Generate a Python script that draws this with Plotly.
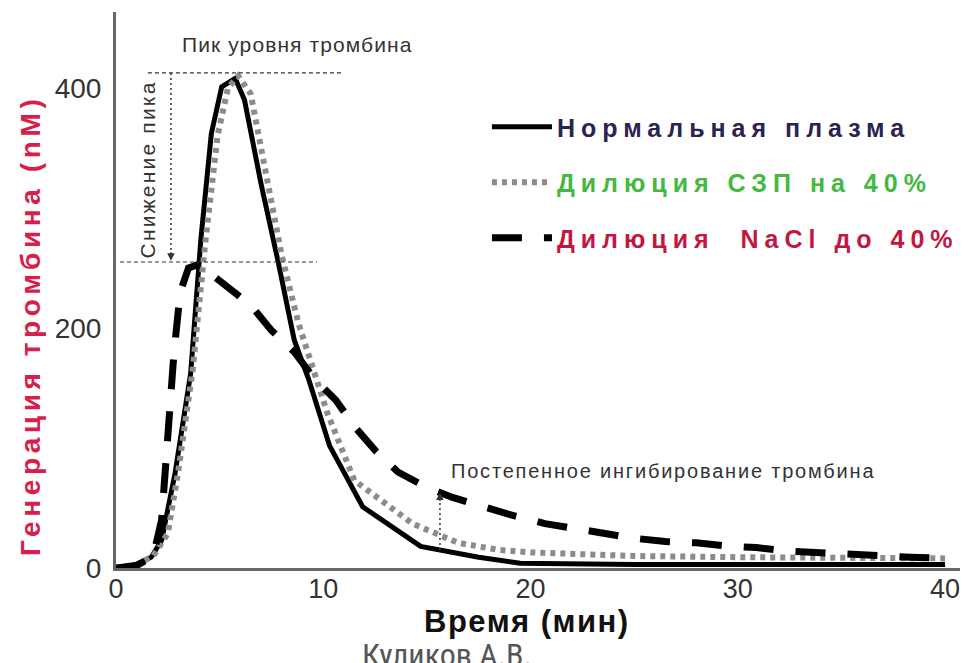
import numpy as np
import plotly.graph_objects as go

# ---- data ----
t_normal = [0, 1, 1.7, 2.2, 2.85, 3.6, 4.1, 4.6, 5.1, 5.75, 6.2, 7.0, 7.8, 8.6, 9.3, 10.3, 11.9, 14.7, 17.5, 19.5, 25, 30, 35, 40]
y_normal = [0, 3, 9, 23, 79, 162, 275, 362, 401, 408, 390, 320, 257, 190, 157, 102, 51, 18, 9, 4, 3, 3, 3, 3]

t_ffp = [0, 1, 1.8, 2.5, 3.0, 3.7, 4.3, 4.9, 5.4, 5.9, 6.5, 7.2, 8.0, 8.8, 9.5, 10.2, 11.5, 12.8, 14.3, 16.5, 18.5, 20, 25, 30, 35, 40]
y_ffp = [0, 3, 10, 29, 80, 165, 270, 360, 400, 410, 395, 330, 260, 204, 165, 129, 73, 57, 37, 21, 15, 13, 10, 9, 8, 8]

t_nacl = [0, 1, 1.8, 2.2, 2.5, 2.8, 3.1, 3.5, 4.0, 5.3, 6.5, 7.5, 8.6, 9.6, 10.6, 11.5, 12.5, 13.6, 14.9, 16.2, 17.8, 19.1,
          20.7, 22.0, 23.6, 24.9, 26.5, 28.0, 29.6, 30.9, 32.5, 33.9, 35.5, 36.8, 38.3, 40]
y_nacl = [0, 2, 10, 40, 110, 180, 230, 250, 253, 236, 219, 198, 180, 157, 140, 118, 98, 80, 68, 59, 50, 44,
          37, 33, 28, 25, 22, 21, 18, 17, 14, 12.5, 11, 9.5, 9, 8]

x_ticks = [0, 10, 20, 30, 40]
y_ticks = [0, 200, 400]

names = ["Нормальная плазма", "Дилюция СЗП на 40%", "Дилюция  NaCl до 40%"]
name_colors = ["#2b2350", "#43b843", "#c3173f"]

SANS = "Liberation Sans, Arial, sans-serif"
NARROW = "Liberation Sans Narrow, Roboto Condensed, Liberation Sans, sans-serif"


def sp(text, px, color=None, bold=False):
    style = f"letter-spacing:{px}px;"
    if color:
        style = f"color:{color};" + style
    inner = f"<b>{text}</b>" if bold else text
    return f"<span style='{style}'>{inner}</span>"


fig = go.Figure()

fig.add_trace(go.Scatter(
    x=t_normal, y=y_normal, mode="lines", legendgroup="a",
    line=dict(color="black", width=5),
    name=sp(names[0], 6, name_colors[0], True)))
fig.add_trace(go.Scatter(
    x=t_ffp, y=y_ffp, mode="lines", legendgroup="b",
    line=dict(color="#8c8c8c", width=6, dash="5px,5px"),
    name=sp(names[1], 6, name_colors[1], True)))
fig.add_trace(go.Scatter(
    x=t_nacl, y=y_nacl, mode="lines", legendgroup="c",
    line=dict(color="black", width=7, dash="30px,22px"),
    name=sp(names[2], 6, name_colors[2], True)))

peak_n = max(y_normal)
peak_c = max(y_nacl)

guide = dict(color="#333", width=1.2, dash="4px,3px")
fig.add_shape(type="line", xref="x", yref="y", x0=1.54, x1=10.95, y0=peak_n + 4.5, y1=peak_n + 4.5, line=guide)
fig.add_shape(type="line", xref="x", yref="y", x0=0.19, x1=9.7, y0=peak_c + 2, y1=peak_c + 2, line=guide)
# vertical arrow "peak decrease"
xa1 = 2.65
fig.add_shape(type="line", xref="x", yref="y", x0=xa1, x1=xa1, y0=peak_n + 4.5, y1=peak_c + 8,
              line=dict(color="#333", width=1.5, dash="2px,3px"))
fig.add_annotation(x=xa1, y=peak_c + 3, xref="x", yref="y", ax=0, ay=-10, text="",
                   showarrow=True, arrowhead=2, arrowsize=1, arrowwidth=1.5, arrowcolor="#333")

# vertical arrow "gradual inhibition"
xa2 = 15.63
y_lo = float(np.interp(xa2, t_normal, y_normal))
y_hi = float(np.interp(xa2, t_nacl, y_nacl))
fig.add_shape(type="line", xref="x", yref="y", x0=xa2, x1=xa2, y0=y_lo, y1=y_hi - 5,
              line=dict(color="#333", width=1.5, dash="2px,3px"))
fig.add_annotation(x=xa2, y=y_hi, xref="x", yref="y", ax=0, ay=10, text="",
                   showarrow=True, arrowhead=2, arrowsize=1, arrowwidth=1.5, arrowcolor="#333")

fig.add_annotation(x=8.78, y=436, xref="x", yref="y", text=sp("Пик уровня тромбина", 1.1),
                   showarrow=False, font=dict(family=SANS, size=21, color="#333"))
fig.add_annotation(x=1.54, y=332, xref="x", yref="y", text=sp("Снижение пика", 2.2), textangle=-90,
                   showarrow=False, font=dict(family=SANS, size=21, color="#333"))
fig.add_annotation(x=26.4, y=81, xref="x", yref="y", text=sp("Постепенное ингибирование тромбина", 1.8),
                   showarrow=False, font=dict(family=SANS, size=20, color="#333"))

# axis titles
fig.add_annotation(x=-0.102, y=0.437, xref="paper", yref="paper",
                   text=sp("Генерация тромбина (nM)", 4.6, bold=True),
                   textangle=-90, showarrow=False, xanchor="center", yanchor="middle",
                   font=dict(family=SANS, size=28, color="#d81e4a"))
fig.add_annotation(x=0.487, y=-0.097, xref="paper", yref="paper",
                   text=sp("Время (мин)", 1.5, bold=True),
                   showarrow=False, xanchor="center", yanchor="middle",
                   font=dict(family=SANS, size=31, color="#111"))
# author
fig.add_annotation(x=0.392, y=-0.1187, xref="paper", yref="paper", text="Куликов А.В.",
                   showarrow=False, xanchor="center", yanchor="top",
                   font=dict(family=NARROW, size=32, color="#555"))

# the page body has an 8px margin, so the figure is 960x655 to fill the 968x663 window
fig.update_layout(
    template="none",
    width=960, height=655,
    margin=dict(l=108, r=8, t=4, b=95, pad=0),
    plot_bgcolor="white", paper_bgcolor="white",
    showlegend=True,
    legend=dict(x=0.4395, y=0.8345, xanchor="left", yanchor="top", bgcolor="rgba(0,0,0,0)",
                traceorder="grouped", tracegroupgap=20, itemwidth=60,
                font=dict(family=SANS, size=25)),
    xaxis=dict(range=[0, 40.72], tickvals=x_ticks, ticktext=[str(v) for v in x_ticks],
               showgrid=False, zeroline=False, showline=True, linecolor="#666", linewidth=3,
               ticks="", automargin=False, ticklabelstandoff=-5,
               tickfont=dict(family=SANS, size=27, color="#333")),
    yaxis=dict(range=[0, 463.3], tickvals=y_ticks, ticktext=[str(v) for v in y_ticks],
               showgrid=False, zeroline=False, showline=True, linecolor="#666", linewidth=3,
               ticks="", automargin=False, ticklabelstandoff=6,
               tickfont=dict(family=SANS, size=28, color="#333")),
)

fig.write_html("out.html")
